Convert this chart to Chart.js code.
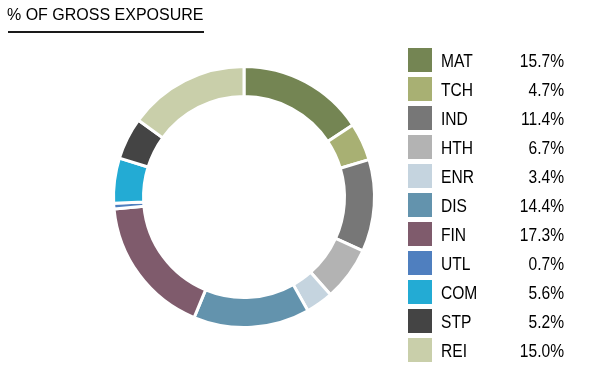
<!DOCTYPE html>
<html><head><meta charset="utf-8">
<script src="https://cdn.jsdelivr.net/npm/chart.js@4.4.1/dist/chart.umd.min.js"></script>
<style>html,body{margin:0;padding:0;background:#fff;}#wrap{width:590px;height:374px;position:relative;}</style>
</head><body><div id="wrap"><canvas id="c" width="590" height="374"></canvas></div>
<script>
const title = "% OF GROSS EXPOSURE";
const categories = ["MAT","TCH","IND","HTH","ENR","DIS","FIN","UTL","COM","STP","REI"];
const values = [15.7,4.7,11.4,6.7,3.4,14.4,17.3,0.7,5.6,5.2,15.0];
const valueLabels = ["15.7%","4.7%","11.4%","6.7%","3.4%","14.4%","17.3%","0.7%","5.6%","5.2%","15.0%"];
const colors = ["#748553","#a8b073","#777777","#b3b3b3","#c5d4df","#6393ad","#7f5b6c","#4f7fbf","#23abd4","#444444","#c9cfaa"];

const legendFont = "19px 'Liberation Sans', Arial, sans-serif";

function narrowText(ctx, text, x, y, align) {
  ctx.save();
  ctx.translate(x, y);
  ctx.scale(0.82, 1);
  ctx.textAlign = align;
  ctx.fillText(text, 0, 0);
  ctx.restore();
}

const legendPlugin = {
  id: 'customLegend',
  afterDraw(chart) {
    const ctx = chart.ctx;
    ctx.save();
    ctx.fillStyle = '#000';
    ctx.font = "16px 'Liberation Sans', Arial, sans-serif";
    ctx.textBaseline = 'alphabetic';
    ctx.textAlign = 'left';
    ctx.fillText(title, 7, 20);
    ctx.fillStyle = '#1a1a1a';
    ctx.fillRect(8, 31, 196, 2);
    const x0 = 408, y0 = 48, pitch = 29, sw = 24;
    categories.forEach((cat, i) => {
      const y = y0 + i * pitch;
      ctx.fillStyle = colors[i];
      ctx.fillRect(x0, y, sw, sw);
      ctx.fillStyle = '#000';
      ctx.font = legendFont;
      narrowText(ctx, cat, 441, y + 19, 'left');
      narrowText(ctx, valueLabels[i], 564, y + 19, 'right');
    });
    ctx.restore();
  }
};

new Chart(document.getElementById('c'), {
  type: 'doughnut',
  data: {
    labels: categories,
    datasets: [{
      data: values,
      backgroundColor: colors,
      borderColor: '#ffffff',
      borderWidth: 3,
      hoverOffset: 0
    }]
  },
  options: {
    responsive: false,
    animation: false,
    cutout: '77%',
    layout: { padding: { left: 112, right: 214, top: 65, bottom: 45 } },
    plugins: { legend: { display: false }, tooltip: { enabled: false }, title: { display: false } }
  },
  plugins: [legendPlugin]
});
</script></body></html>
